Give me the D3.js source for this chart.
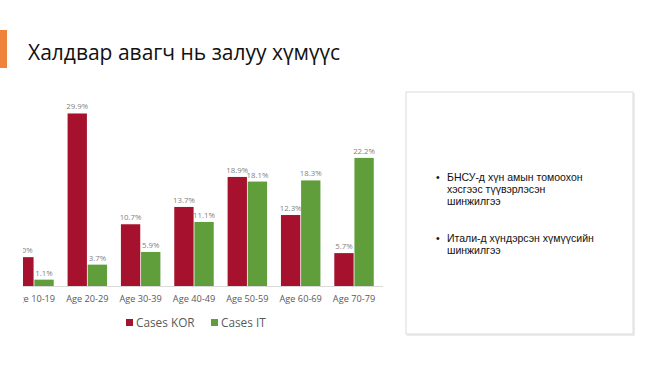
<!DOCTYPE html>
<html><head><meta charset="utf-8">
<script src="https://cdn.jsdelivr.net/npm/d3@7"></script>
<style>
body{margin:0;background:#fff;}
svg{display:block;font-family:"Open Sans",sans-serif;}
</style></head>
<body>
<svg id="c" width="655" height="367"></svg>
<script>
const categories = ["Age 10-19","Age 20-29","Age 30-39","Age 40-49","Age 50-59","Age 60-69","Age 70-79"];
const seriesNames = ["Cases KOR","Cases IT"];
const casesKOR = [5.0, 29.9, 10.7, 13.7, 18.9, 12.3, 5.7];
const casesIT = [1.1, 3.7, 5.9, 11.1, 18.1, 18.3, 22.2];
const colors = ["#A6122D","#609E3B"];
const titleText = "Халдвар авагч нь залуу хүмүүс";
const bullets = [
  ["БНСУ-д хүн амын томоохон","хэсгээс түүвэрлэсэн","шинжилгээ"],
  ["Итали-д хүндэрсэн хүмүүсийн","шинжилгээ"]
];

const svg = d3.select("#c");
// orange accent
svg.append("rect").attr("x",0).attr("y",30).attr("width",7).attr("height",38).attr("fill","#F0833A");
svg.append("text").attr("x",28).attr("y",60).attr("font-size",21).attr("fill","#111").text(titleText);

// chart
const base = 286;
const x0 = d3.scaleBand().domain(categories).range([7.3,380.7]).paddingInner(0.26).paddingOuter(0.13);
const x1 = d3.scaleBand().domain(seriesNames).range([0,x0.bandwidth()]).paddingInner(0.04);
const y = d3.scaleLinear().domain([0,35]).range([base, base-35*5.77]);

svg.append("defs").append("clipPath").attr("id","cl").append("rect")
  .attr("x",23).attr("y",0).attr("width",400).attr("height",367);
const g = svg.append("g").attr("clip-path","url(#cl)");

const data = categories.map((c,i)=>({c, vals:[casesKOR[i], casesIT[i]]}));
const grp = g.selectAll("g.grp").data(data).join("g").attr("class","grp")
  .attr("transform", d=>`translate(${x0(d.c)},0)`);
grp.selectAll("rect").data(d=>d.vals.map((v,j)=>({v,s:seriesNames[j],j})))
  .join("rect")
  .attr("x",d=>x1(d.s)).attr("width",x1.bandwidth())
  .attr("y",d=>y(d.v)).attr("height",d=>base-y(d.v))
  .attr("fill",d=>colors[d.j]);
grp.selectAll("text").data(d=>d.vals.map((v,j)=>({v,s:seriesNames[j],j})))
  .join("text")
  .attr("x",d=>x1(d.s)+x1.bandwidth()/2).attr("y",d=>y(d.v)-4)
  .attr("text-anchor","middle").attr("font-size",7.8).attr("fill","#7f7f7f")
  .text(d=>d.v.toFixed(1)+"%");

// axis
const ax = g.append("g").attr("transform",`translate(0,${base})`)
  .call(d3.axisBottom(x0).tickSize(0).tickPadding(9));
ax.select(".domain").attr("stroke","#d9d9d9").attr("d","M7.3,0.5H383");
ax.selectAll("text").attr("font-size",9.2).attr("fill","#595959").attr("font-family","Open Sans, sans-serif");

// legend
const lg = svg.append("g").attr("transform","translate(126,323)");
const lx = [0,85];
seriesNames.forEach((s,i)=>{
  lg.append("rect").attr("x",lx[i]).attr("y",-4).attr("width",7).attr("height",7).attr("fill",colors[i]);
  lg.append("text").attr("x",lx[i]+10).attr("y",4).attr("font-size",11.8).attr("fill","#595959").text(s);
});

// right box
svg.append("rect").attr("x",407).attr("y",93).attr("width",228).attr("height",243)
  .attr("fill","#ececec");
svg.append("rect").attr("x",406).attr("y",92).attr("width",227).attr("height",242)
  .attr("fill","#fff").attr("stroke","#dcdcdc").attr("stroke-width",1);

const starts = [181, 242];
bullets.forEach((lines,i)=>{
  svg.append("text").attr("x",436).attr("y",starts[i]).attr("font-size",10.5)
    .attr("font-family","Liberation Sans, Arial, sans-serif").attr("fill","#111").text("•");
  lines.forEach((l,k)=>{
    svg.append("text").attr("x",447).attr("y",starts[i]+k*12)
      .attr("font-size",10.5).attr("font-family","Liberation Sans, Arial, sans-serif")
      .attr("fill","#111").text(l);
  });
});
</script>
</body></html>
